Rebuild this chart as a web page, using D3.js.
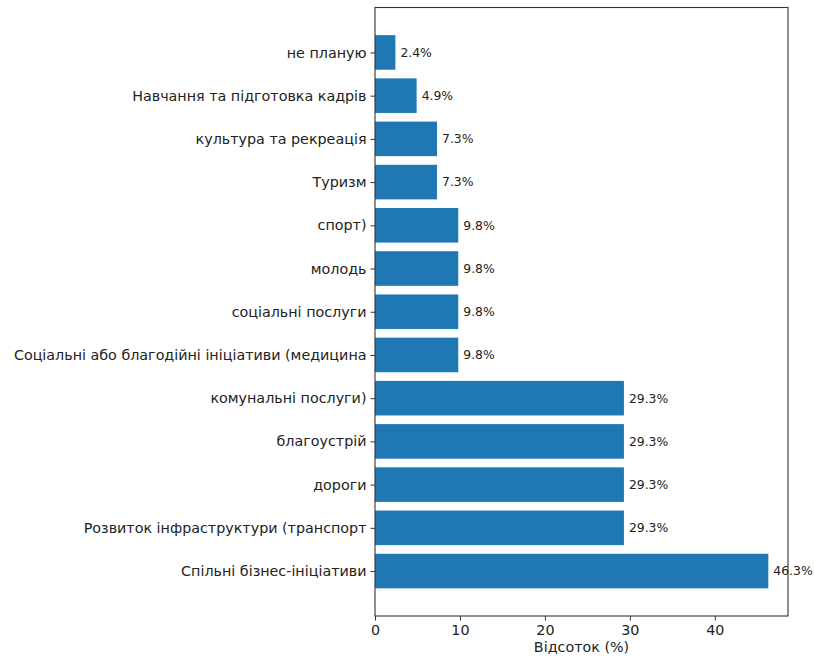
<!DOCTYPE html>
<html><head><meta charset="utf-8">
<script src="https://cdn.jsdelivr.net/npm/d3@7/dist/d3.min.js"></script>
<style>body{margin:0;background:#fff;} text{font-family:"DejaVu Sans",sans-serif;}</style>
</head><body>
<svg id="c" width="814" height="656"></svg>
<script>
const categories = ["Спільні бізнес-ініціативи","Розвиток інфраструктури (транспорт","дороги","благоустрій","комунальні послуги)","Соціальні або благодійні ініціативи (медицина","соціальні послуги","молодь","спорт)","Туризм","культура та рекреація","Навчання та підготовка кадрів","не планую"];
const values = [46.3,29.3,29.3,29.3,29.3,9.8,9.8,9.8,9.8,7.3,7.3,4.9,2.4];
const xTicks = [0,10,20,30,40];
const xLabel = "Відсоток (%)";

const svg = d3.select("#c");
const L=375, R=788, T=7.5, B=616;
const x = d3.scaleLinear().domain([0, d3.max(values)*1.05]).range([L,R]);
const n = categories.length;
const ypad = (n-1+0.8)*0.05;
const y = d3.scaleLinear().domain([-0.4-ypad, n-1+0.4+ypad]).range([B,T]);

const g = svg.append("g");
g.selectAll("rect").data(values).join("rect")
  .attr("x", x(0))
  .attr("y", (d,i)=>y(i+0.4))
  .attr("width", d=>x(d)-x(0))
  .attr("height", (d,i)=>y(i-0.4)-y(i+0.4))
  .attr("fill","#1f77b4");

g.selectAll("text.v").data(values).join("text").attr("class","v")
  .attr("x", d=>x(d)+5).attr("y",(d,i)=>y(i))
  .attr("dy","0.35em").attr("font-size","12.4px").attr("fill","#222")
  .text(d=>d.toFixed(1)+"%");

// frame
svg.append("rect").attr("x",L).attr("y",T).attr("width",R-L).attr("height",B-T)
  .attr("fill","none").attr("stroke","#333").attr("stroke-width",1.1);

const xa = d3.axisBottom(x).tickValues(xTicks).tickSize(4.5).tickPadding(4).tickFormat(d3.format("d"));
const gx = svg.append("g").attr("transform",`translate(0,${B})`).call(xa);
gx.select(".domain").remove();
gx.selectAll("line").attr("stroke","#333");
gx.selectAll("text").attr("font-size","14.3px").attr("fill","#222").style("font-family","DejaVu Sans");

const ya = d3.axisLeft(y).tickValues(d3.range(n)).tickSize(4.5).tickPadding(4).tickFormat(i=>categories[i]);
const gy = svg.append("g").attr("transform",`translate(${L},0)`).call(ya);
gy.select(".domain").remove();
gy.selectAll("line").attr("stroke","#333");
gy.selectAll("text").attr("font-size","14.3px").attr("fill","#222").style("font-family","DejaVu Sans");

svg.append("text").attr("x",(L+R)/2).attr("y",652).attr("text-anchor","middle")
  .attr("font-size","14.3px").attr("fill","#222").text(xLabel);
</script>
</body></html>
